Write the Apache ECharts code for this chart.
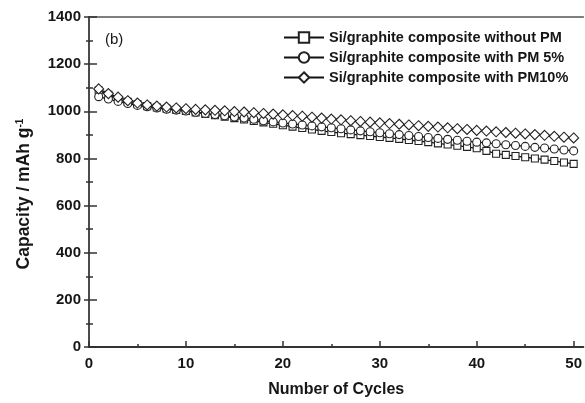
<!DOCTYPE html>
<html>
<head>
<meta charset="utf-8">
<script src="https://cdn.jsdelivr.net/npm/echarts@6/dist/echarts.min.js"></script>
<style>
  html, body { margin: 0; padding: 0; background: #fff; }
  #main { width: 585px; height: 403px; }
</style>
</head>
<body>
<div id="main"></div>
<script>
// cycle number 1..50
const cycles = [1, 2, 3, 4, 5, 6, 7, 8, 9, 10, 11, 12, 13, 14, 15, 16, 17, 18, 19, 20,
  21, 22, 23, 24, 25, 26, 27, 28, 29, 30, 31, 32, 33, 34, 35, 36, 37, 38, 39, 40,
  41, 42, 43, 44, 45, 46, 47, 48, 49, 50]

// capacity, mAh/g
const withoutPM = [1088, 1070, 1052, 1040, 1030, 1022, 1016, 1011, 1006, 1001,
  995, 989, 983, 977, 971, 965, 959, 953, 947, 941,
  935, 929, 923, 917, 912, 907, 903, 899, 895, 891,
  887, 883, 878, 874, 869, 864, 859, 854, 849, 843,
  832, 820, 815, 810, 805, 800, 795, 789, 783, 777]
const withPM5 = [1062, 1052, 1042, 1033, 1025, 1019, 1014, 1009, 1005, 1001,
  996, 991, 986, 981, 976, 971, 966, 960, 955, 950,
  946, 942, 938, 934, 930, 926, 921, 917, 913, 909,
  905, 901, 897, 893, 889, 885, 881, 877, 873, 869,
  866, 862, 858, 855, 851, 847, 844, 840, 836, 832]
const withPM10 = [1095, 1075, 1060, 1045, 1035, 1027, 1022, 1018, 1014, 1011,
  1008, 1006, 1004, 1002, 999, 997, 994, 991, 988, 985,
  982, 979, 975, 971, 967, 964, 960, 957, 954, 951,
  948, 945, 942, 939, 936, 933, 930, 926, 923, 919,
  916, 913, 910, 907, 904, 901, 898, 894, 890, 887]

const xLabels = [0, 10, 20, 30, 40, 50]
const xMinorTicks = [5, 15, 25, 35, 45]

const font = 'Liberation Sans, Arial, sans-serif'
const ink = '#161616'

function pairs (ys) {
  return cycles.map((c, i) => [c, ys[i]])
}

function makeSeries (name, symbol, size, ys) {
  return {
    name: name,
    type: 'line',
    data: pairs(ys),
    symbol: symbol,
    symbolSize: size,
    showAllSymbol: true,
    lineStyle: { color: '#111', width: 1.3 },
    itemStyle: { color: '#fff', borderColor: '#222', borderWidth: 1.1 },
    emphasis: { disabled: true },
    animation: false,
    z: 3
  }
}

const myChart = echarts.init(document.getElementById('main'))

const option = {
  backgroundColor: '#fff',
  textStyle: { fontFamily: font },
  grid: { left: 89, right: 0, top: 17, bottom: 55 },
  legend: {
    orient: 'vertical',
    left: 278,
    top: 25,
    itemWidth: 40,
    itemHeight: 13,
    itemGap: 5,
    textStyle: { fontFamily: font, fontWeight: 'bold', fontSize: 14.5, color: ink },
    data: ['Si/graphite composite without PM', 'Si/graphite composite with PM 5%', 'Si/graphite composite with PM10%']
  },
  graphic: [{
    type: 'text',
    left: 105,
    top: 32,
    style: { text: '(b)', font: '15px ' + font, fill: ink }
  }],
  xAxis: [{
    type: 'value',
    min: 0,
    max: 51,
    position: 'bottom',
    name: 'Number of Cycles',
    nameLocation: 'middle',
    nameGap: 35,
    nameTextStyle: { fontFamily: font, fontWeight: 'bold', fontSize: 16, color: ink },
    axisLine: { lineStyle: { color: '#333', width: 2 } },
    axisTick: { inside: true, length: 6, customValues: xLabels, lineStyle: { color: '#333', width: 1.5 } },
    axisLabel: { customValues: xLabels, margin: 9, fontFamily: font, fontWeight: 'bold', fontSize: 15, color: ink },
    splitLine: { show: false }
  }, {
    type: 'value',
    min: 0,
    max: 51,
    position: 'bottom',
    axisLine: { show: false },
    axisTick: { inside: true, length: 3, customValues: xMinorTicks, lineStyle: { color: '#333', width: 1.5 } },
    axisLabel: { show: false },
    splitLine: { show: false }
  }, {
    type: 'value',
    min: 0,
    max: 51,
    position: 'top',
    axisLine: { lineStyle: { color: '#555', width: 1.5 } },
    axisTick: { show: false },
    axisLabel: { show: false },
    splitLine: { show: false }
  }],
  yAxis: [{
    type: 'value',
    min: 0,
    max: 1400,
    interval: 200,
    position: 'left',
    name: '{n|Capacity / mAh g}{s|-1}',
    nameLocation: 'middle',
    nameGap: 56,
    nameRotate: 90,
    nameTextStyle: {
      padding: [0, 24, 0, 0],
      rich: {
        n: { fontFamily: font, fontWeight: 'bold', fontSize: 17.5, color: ink },
        s: { fontFamily: font, fontWeight: 'bold', fontSize: 10, color: ink, verticalAlign: 'top', padding: [0, 0, 8, 0] }
      }
    },
    axisLine: { lineStyle: { color: '#333', width: 2 } },
    axisTick: { inside: true, length: 8, lineStyle: { color: '#333', width: 1.5 } },
    minorTick: { show: true, splitNumber: 2, length: 4, lineStyle: { color: '#333', width: 1.5 } },
    axisLabel: {
      margin: 8,
      fontFamily: font,
      fontWeight: 'bold',
      fontSize: 15,
      color: ink,
      formatter: v => String(v)
    },
    splitLine: { show: false }
  }, {
    type: 'value',
    min: 0,
    max: 1400,
    interval: 200,
    position: 'right',
    axisLine: { lineStyle: { color: '#555', width: 1.5 } },
    axisTick: { inside: true, length: 5, lineStyle: { color: '#333', width: 1.5 } },
    minorTick: { show: true, splitNumber: 2, length: 3, lineStyle: { color: '#333', width: 1.5 } },
    axisLabel: { show: false },
    splitLine: { show: false }
  }],
  series: [
    makeSeries('Si/graphite composite without PM', 'rect', 7, withoutPM),
    makeSeries('Si/graphite composite with PM 5%', 'circle', 8, withPM5),
    makeSeries('Si/graphite composite with PM10%', 'diamond', 10, withPM10)
  ]
}

myChart.setOption(option)
</script>
</body>
</html>
